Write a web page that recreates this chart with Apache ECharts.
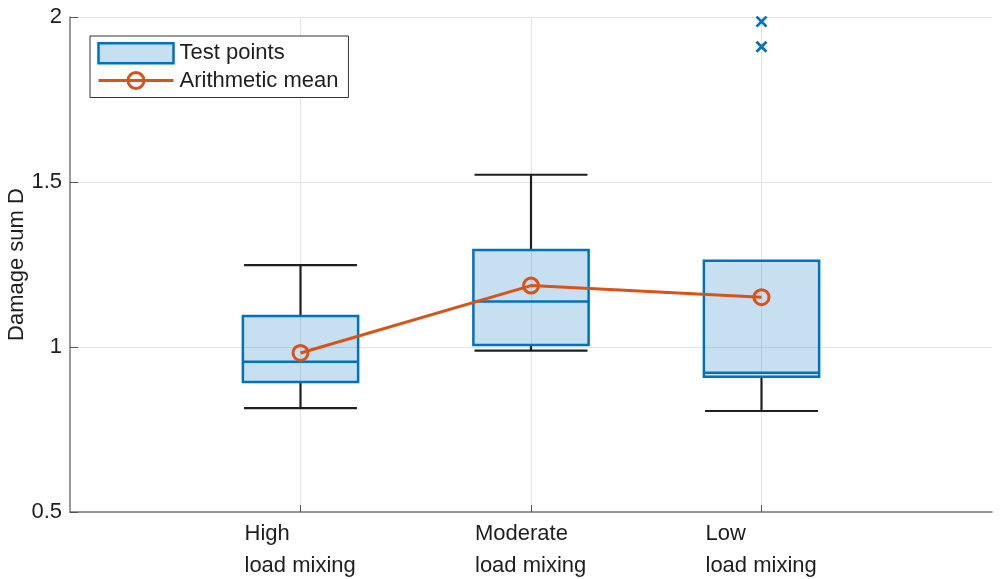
<!DOCTYPE html>
<html>
<head>
<meta charset="utf-8">
<script src="https://cdn.jsdelivr.net/npm/echarts@6/dist/echarts.min.js"></script>
<style>
html,body{margin:0;padding:0;background:#fff;}
#chart{width:1000px;height:579px;}
</style>
</head>
<body>
<div id="chart"></div>
<script>
// ---- data ----
const categories = ['High\nload mixing', 'Moderate\nload mixing', 'Low\nload mixing'];
const whiskerLow  = [0.815, 0.989, 0.806];
const q1          = [0.894, 1.006, 0.910];
const median      = [0.955, 1.138, 0.922];
const q3          = [1.094, 1.294, 1.261];
const whiskerHigh = [1.248, 1.522, 1.261];
const means       = [0.982, 1.186, 1.151];
// outliers: [category index, value]
const outliers    = [[2, 1.986], [2, 1.910]];
const yMin = 0.5, yMax = 2, yStep = 0.5;
const seriesNames = ['Test points', 'Arithmetic mean'];

// ---- build ----
const xData = [''].concat(categories, ['']);
const boxData = categories.map((c, i) => [i + 1, whiskerLow[i], q1[i], median[i], q3[i], whiskerHigh[i]]);
const meanData = means.map((m, i) => [i + 1, m]);
const outlierData = outliers.map(o => [o[0] + 1, o[1]]);

const BLUE = '#0072BD';
const FILL = 'rgba(0,114,189,0.22)';
const ORANGE = '#D95319';
const FONT = 'Liberation Sans, Arial, sans-serif';
const TXT = '#1e1e1e';

const chart = echarts.init(document.getElementById('chart'), null, {renderer: 'canvas'});
chart.setOption({
  animation: false,
  backgroundColor: '#fff',
  textStyle: {fontFamily: FONT},
  grid: {left: 70, right: 8, top: 17, bottom: 67, containLabel: false, outerBoundsMode: 'none'},
  legend: {
    left: 90, top: 36,
    orient: 'vertical',
    itemWidth: 75, itemHeight: 20,
    itemGap: 5,
    padding: [6, 10, 6, 7],
    borderColor: '#333', borderWidth: 1,
    backgroundColor: '#fff',
    selectedMode: false,
    textStyle: {fontFamily: FONT, fontSize: 22, color: TXT, padding: [0, 0, 0, 1]},
    data: [
      {name: seriesNames[0], icon: 'rect', itemStyle: {color: FILL, borderColor: BLUE, borderWidth: 2.5}},
      {name: seriesNames[1], lineStyle: {color: ORANGE, width: 3},
        itemStyle: {color: 'rgba(0,0,0,0)', borderColor: ORANGE, borderWidth: 3}}
    ]
  },
  xAxis: {
    type: 'category',
    data: xData,
    boundaryGap: false,
    axisLine: {show: true, lineStyle: {color: '#777', width: 1.5}},
    axisTick: {show: true, inside: true, length: 7, lineStyle: {color: '#555'},
      interval: function (idx) { return idx > 0 && idx < xData.length - 1; }},
    splitLine: {show: true, lineStyle: {color: '#e3e3e3', width: 1},
      interval: function (idx) { return idx > 0 && idx < xData.length - 1; }},
    axisLabel: {
      interval: 0,
      margin: 6,
      color: TXT,
      fontFamily: FONT,
      fontSize: 22,
      formatter: function (v) {
        if (!v) return '';
        return v.split('\n').map(s => '{a|' + s + '}').join('\n');
      },
      rich: {a: {width: 112, align: 'left', fontSize: 22, lineHeight: 32, fontFamily: FONT, color: TXT}}
    }
  },
  yAxis: {
    type: 'value',
    min: yMin, max: yMax, interval: yStep,
    name: 'Damage sum D',
    nameLocation: 'middle',
    nameGap: 42,
    nameMoveOverlap: false,
    nameTextStyle: {fontFamily: FONT, fontSize: 22, color: TXT},
    axisLine: {show: true, lineStyle: {color: '#777', width: 1.5}},
    axisTick: {show: true, inside: true, length: 8, lineStyle: {color: '#555'}},
    splitLine: {show: true, lineStyle: {color: '#e3e3e3', width: 1}},
    axisLabel: {color: TXT, fontFamily: FONT, fontSize: 22, margin: 8,
      formatter: function (v) { return String(v); }}
  },
  series: [
    {
      name: seriesNames[0],
      type: 'custom',
      itemStyle: {color: FILL, borderColor: BLUE, borderWidth: 2.5},
      encode: {x: 0, y: [1, 2, 3, 4, 5]},
      data: boxData,
      z: 2,
      renderItem: function (params, api) {
        const x = api.value(0);
        const pLo = api.coord([x, api.value(1)]);
        const pQ1 = api.coord([x, api.value(2)]);
        const pMed = api.coord([x, api.value(3)]);
        const pQ3 = api.coord([x, api.value(4)]);
        const pHi = api.coord([x, api.value(5)]);
        const unit = api.size([1, 0])[0];
        const bw = unit * 0.5;
        const cw = unit * 0.245;
        const cx = pQ1[0];
        const wStyle = {stroke: '#1f1f1f', lineWidth: 2.2};
        const children = [];
        if (pHi[1] < pQ3[1] - 0.5) {
          children.push({type: 'line', shape: {x1: cx, y1: pQ3[1], x2: cx, y2: pHi[1]}, style: wStyle});
          children.push({type: 'line', shape: {x1: cx - cw, y1: pHi[1], x2: cx + cw, y2: pHi[1]}, style: wStyle});
        }
        if (pLo[1] > pQ1[1] + 0.5) {
          children.push({type: 'line', shape: {x1: cx, y1: pQ1[1], x2: cx, y2: pLo[1]}, style: wStyle});
          children.push({type: 'line', shape: {x1: cx - cw, y1: pLo[1], x2: cx + cw, y2: pLo[1]}, style: wStyle});
        }
        children.push({type: 'rect',
          shape: {x: cx - bw / 2, y: pQ3[1], width: bw, height: pQ1[1] - pQ3[1]},
          style: {fill: FILL, stroke: BLUE, lineWidth: 2.5}});
        children.push({type: 'line', shape: {x1: cx - bw / 2, y1: pMed[1], x2: cx + bw / 2, y2: pMed[1]},
          style: {stroke: BLUE, lineWidth: 2.5}});
        return {type: 'group', children: children};
      }
    },
    {
      name: 'outliers',
      type: 'scatter',
      data: outlierData,
      symbol: 'path://M0,0L10,10M10,0L0,10',
      symbolSize: 10,
      itemStyle: {color: 'rgba(0,0,0,0)', borderColor: BLUE, borderWidth: 2.8, opacity: 1},
      z: 3
    },
    {
      name: seriesNames[1],
      type: 'line',
      data: meanData,
      symbol: 'circle',
      symbolSize: 15,
      lineStyle: {color: ORANGE, width: 3},
      itemStyle: {color: 'rgba(0,0,0,0)', borderColor: ORANGE, borderWidth: 3},
      z: 4
    }
  ]
});
</script>
</body>
</html>
